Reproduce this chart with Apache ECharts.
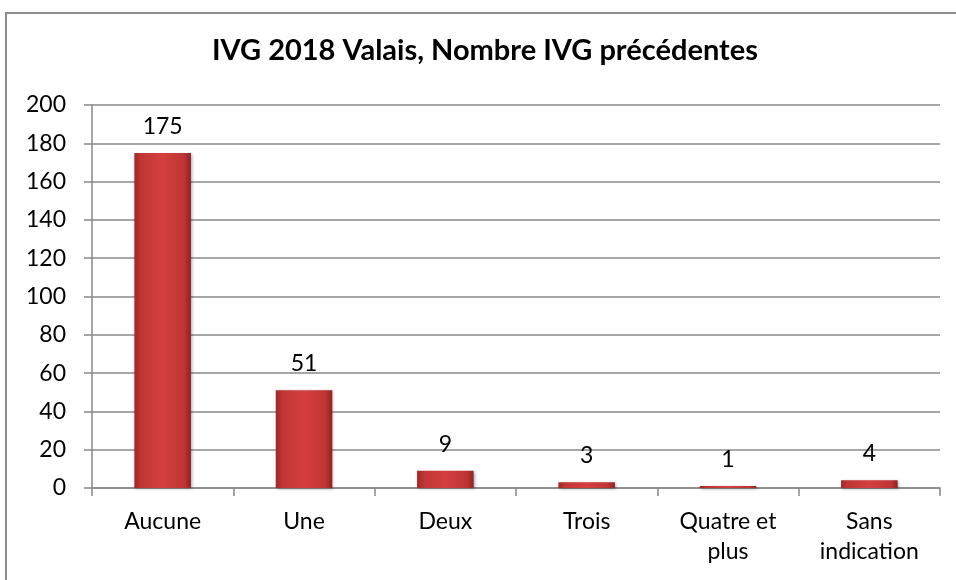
<!DOCTYPE html>
<html>
<head>
<meta charset="utf-8">
<script src="https://cdn.jsdelivr.net/npm/echarts@6/dist/echarts.min.js"></script>
<style>
	html, body { margin: 0; padding: 0; background: #fff; }
	#chart { width: 956px; height: 580px; }
	.frame { position: absolute; left: 5px; top: 12px; width: 960px; height: 600px; border: 2px solid #8c8c8c; box-sizing: border-box; pointer-events: none; }
</style>
</head>
<body>
<div id="chart"></div>
<div class="frame"></div>
<script>
	// données
	const categories = ['Aucune', 'Une', 'Deux', 'Trois', 'Quatre et\nplus', 'Sans\nindication']
	const values = [175, 51, 9, 3, 1, 4]
	const yTicks = { min: 0, max: 200, interval: 20 }

	const myChart = echarts.init(document.getElementById('chart'))

	// dégradé horizontal pour imiter le relief des barres
	const barColor = new echarts.graphic.LinearGradient(0, 0, 1, 0, [
		{ offset: 0, color: '#9e2828' },
		{ offset: 0.12, color: '#c23535' },
		{ offset: 0.5, color: '#d43f3f' },
		{ offset: 0.88, color: '#c03434' },
		{ offset: 1, color: '#8e2222' }
	])

	const option = {
		animation: false,
		textStyle: { fontFamily: 'Lato, "Noto Sans", sans-serif' },
		title: {
			text: 'IVG 2018 Valais, Nombre IVG précédentes',
			left: 212,
			top: 36,
			padding: 0,
			textStyle: { fontSize: 29, fontWeight: 'bold', color: '#000', fontFamily: 'Lato, sans-serif' }
		},
		grid: { left: 92, right: 16, top: 105, bottom: 92, containLabel: false },
		xAxis: {
			type: 'category',
			data: categories,
			axisLine: { lineStyle: { color: '#888', width: 1.5 } },
			axisTick: { show: true, length: 8, lineStyle: { color: '#888', width: 1.5 } },
			axisLabel: { color: '#000', fontSize: 23, margin: 19, lineHeight: 30 }
		},
		yAxis: {
			type: 'value',
			min: yTicks.min,
			max: yTicks.max,
			interval: yTicks.interval,
			axisLine: { show: true, lineStyle: { color: '#888', width: 1.5 } },
			axisTick: { show: true, length: 8, lineStyle: { color: '#888', width: 1.5 } },
			axisLabel: { color: '#000', fontSize: 23, margin: 26 },
			splitLine: { lineStyle: { color: '#8a8a8a', width: 1.5 } }
		},
		series: [{
			type: 'bar',
			data: values,
			barWidth: '40%',
			itemStyle: {
				color: barColor,
				shadowColor: 'rgba(0,0,0,0.35)',
				shadowBlur: 3,
				shadowOffsetX: 1,
				shadowOffsetY: 1
			},
			label: {
				show: true,
				position: 'top',
				distance: 15,
				color: '#000',
				fontSize: 23
			}
		}]
	}

	myChart.setOption(option)
</script>
</body>
</html>
